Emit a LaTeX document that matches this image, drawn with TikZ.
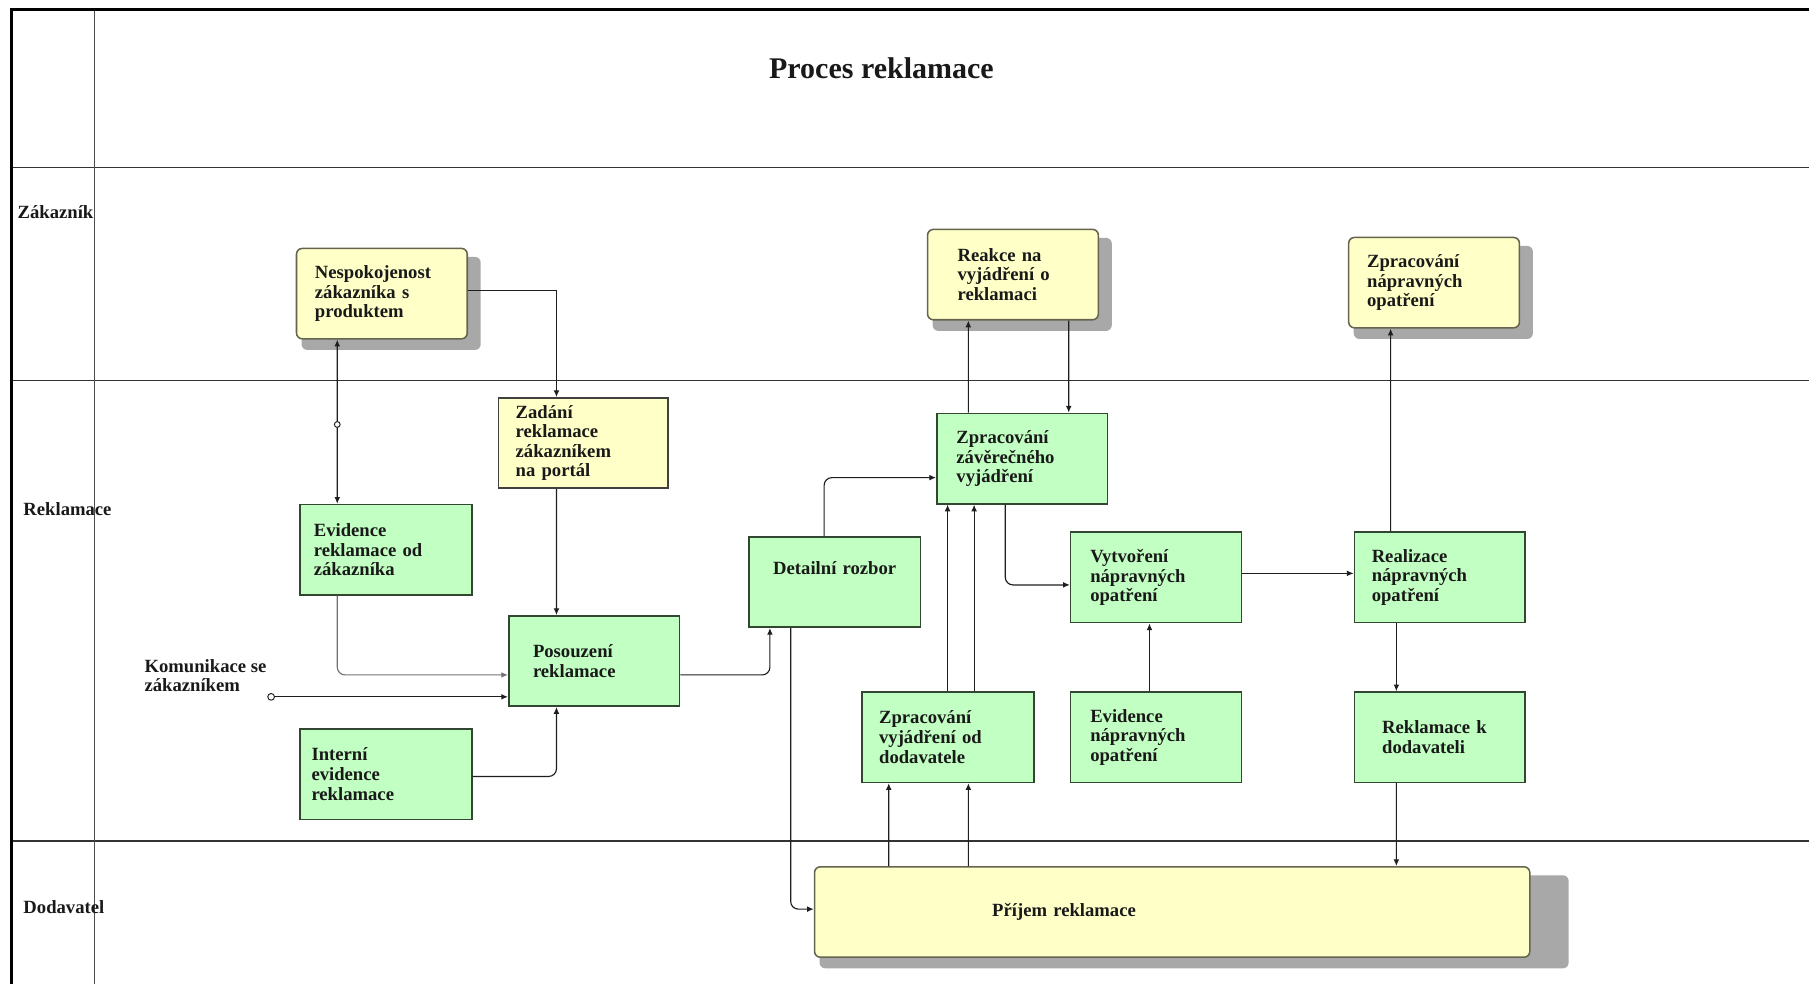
\documentclass[tikz,border=0pt]{standalone}
\usepackage{fontspec}
\setmainfont{Liberation Serif}
\usetikzlibrary{calc,arrows.meta,backgrounds}

\definecolor{boxgreen}{RGB}{194,255,194}
\definecolor{boxyellow}{RGB}{255,255,200}
\definecolor{greenedge}{RGB}{50,70,50}
\definecolor{yellowedge}{RGB}{100,100,80}
\definecolor{shadowgray}{RGB}{168,168,168}
\definecolor{wire}{RGB}{30,30,30}

\tikzset{
  >={Latex[length=3.5pt,width=3pt]},
  lbl/.style={font=\fontsize{9.7}{10.2}\selectfont\bfseries, text=black!90},
  procbox/.style={lbl, draw=greenedge, fill=boxgreen, line width=0.8pt, minimum height=47pt, align=left, inner ysep=0pt},
  userbox/.style={lbl, draw=yellowedge, fill=boxyellow, line width=0.8pt, minimum height=47pt, align=left, inner ysep=0pt, rounded corners=3pt},
  portalbox/.style={lbl, draw=black!75, fill=boxyellow, line width=0.8pt, minimum height=47pt, align=left, inner ysep=0pt},
  conn/.style={draw=wire, line width=0.6pt, ->},
  grayconn/.style={conn, draw=black!55},
  joint/.style={circle, draw=wire, fill=white, line width=0.5pt, inner sep=0pt, minimum size=3pt},
  lane/.style={line width=0.8pt, draw=black!80},
  outerframe/.style={line width=1.4pt, draw=black},
}

\begin{document}
\begin{tikzpicture}[x=0.6pt,y=-0.6pt]
\useasboundingbox (0,0) rectangle (1568,853);

% swimlane grid
\draw[lane] (10,145) -- (1568,145);
\draw[lane] (10,330) -- (1568,330);
\draw[lane] (10,729) -- (1568,729);
\draw[line width=0.6pt, draw=black!70] (82,8) -- (82,853);
\draw[outerframe] (1568,8) -- (10,8) -- (10,853);

% title and lane names
\node[lbl, font=\fontsize{15.6}{18}\selectfont\bfseries] (title) at (764,59) {Proces reklamace};
\node[lbl, anchor=west, inner sep=0pt] (laneA) at (15,184) {Zákazník};
\node[lbl, anchor=west, inner sep=0pt] (laneB) at (20,441) {Reklamace};
\node[lbl, anchor=west, inner sep=0pt] (laneC) at (20,786) {Dodavatel};

% process steps
\node[userbox, text width=69.6pt, inner xsep=9.6pt] (nesp) at (331,254.5) {Nespokojenost\\zákazníka s\\produktem};
\node[portalbox, text width=70.2pt, inner xsep=9pt] (zad) at (505.5,384) {Zadání\\reklamace\\zákazníkem\\na portál};
\node[procbox, text width=75pt, inner xsep=7.2pt] (evid) at (334.5,476.5) {Evidence\\reklamace od\\zákazníka};
\node[procbox, text width=63.6pt, inner xsep=12.6pt] (pos) at (515,573) {Posouzení\\reklamace};
\node[procbox, text width=77.4pt, inner xsep=6pt] (int) at (334.5,671) {Interní\\evidence\\reklamace};
\node[procbox, text width=70pt, inner xsep=9.7pt, align=center] (det) at (723.5,504.5) {Detailní rozbor\\[4.2pt]~};
\node[userbox, text width=57.6pt, inner xsep=15.6pt] (reak) at (878,238) {Reakce na\\vyjádření o\\reklamaci};
\node[procbox, text width=68.4pt, inner xsep=10.2pt] (zav) at (886,397.5) {Zpracování\\závěrečného\\vyjádření};
\node[procbox, text width=68.4pt, inner xsep=10.2pt] (vyt) at (1002,500.5) {Vytvoření\\nápravných\\opatření};
\node[userbox, text width=69.6pt, inner xsep=9.6pt] (zpn) at (1243,245) {Zpracování\\nápravných\\opatření};
\node[procbox, text width=70.8pt, inner xsep=9pt] (real) at (1248,500.5) {Realizace\\nápravných\\opatření};
\node[procbox, text width=71.4pt, inner xsep=9pt] (zvd) at (821.5,639) {Zpracování\\vyjádření od\\dodavatele};
\node[procbox, text width=68.4pt, inner xsep=10.2pt] (evn) at (1002,639) {Evidence\\nápravných\\opatření};
\node[procbox, text width=60pt, inner xsep=14.4pt] (rkd) at (1248,639) {Reklamace k\\dodavateli};
\node[userbox, text width=187.2pt, inner xsep=92.4pt] (prij) at (1016,790.5) {Příjem reklamace};

% drop shadows of the rounded boxes
\begin{scope}[on background layer]
  \foreach \b in {nesp,reak,zpn} {
    \fill[shadowgray, rounded corners=3pt] ($(\b.north west)+(5,8)$) rectangle ($(\b.south east)+(11,9)$);
  }
  \fill[shadowgray, rounded corners=3pt] ($(prij.north west)+(5,8)$) rectangle ($(prij.south east)+(33,9)$);
\end{scope}

% external input
\node[joint, minimum size=3.5pt] (kom) at (235,604) {};
\node[lbl, anchor=west, align=left, inner sep=0pt] (komtext) at (125,585.5) {Komunikace se\\zákazníkem};

% connectors
\draw[conn, <->] ($(nesp.south west)+(36,0)$) -- node[joint, pos=0.517] (j1) {} ($(evid.north west)+(33,0)$);
\draw[conn] ($(nesp.east)+(0,-2.5)$) -| ($(zad.north west)+(51,0)$);
\draw[conn] ($(zad.south west)+(51,0)$) -- ($(pos.north west)+(42,0)$);
\draw[grayconn, rounded corners=4pt] ($(evid.south west)+(33,0)$) |- ($(pos.west)+(0,12)$);
\draw[conn] (kom) -- ($(pos.west)+(0,31)$);
\draw[conn, rounded corners=4pt] ($(int.east)+(0,2)$) -| ($(pos.south west)+(42,0)$);
\draw[conn, rounded corners=4pt] ($(pos.east)+(0,12)$) -| ($(det.south west)+(19,0)$);
\draw[conn, rounded corners=4pt] ($(det.north west)+(66,0)$) |- ($(zav.west)+(0,16.5)$);
\draw[conn, rounded corners=4pt] ($(det.south west)+(37,0)$) |- ($(prij.west)+(0,-2.5)$);
\draw[conn] ($(zav.north west)+(28,0)$) -- ($(reak.south west)+(36,0)$);
\draw[conn] ($(reak.south west)+(123,0)$) -- ($(zav.north west)+(115,0)$);
\draw[conn, rounded corners=4pt] ($(zav.south west)+(60,0)$) |- ($(vyt.west)+(0,6.5)$);
\draw[conn] ($(zvd.north west)+(75,0)$) -- ($(zav.south west)+(10,0)$);
\draw[conn] ($(zvd.north west)+(98,0)$) -- ($(zav.south west)+(33,0)$);
\draw[conn] ($(prij.north west)+(65,0)$) -- ($(zvd.south west)+(24,0)$);
\draw[conn] ($(prij.north west)+(134,0)$) -- ($(zvd.south west)+(93,0)$);
\draw[conn] ($(evn.north west)+(69,0)$) -- ($(vyt.south west)+(69,0)$);
\draw[conn] ($(vyt.east)+(0,-3.5)$) -- ($(real.west)+(0,-3.5)$);
\draw[conn] ($(real.north west)+(32,0)$) -- ($(zpn.south west)+(37,0)$);
\draw[conn] ($(real.south west)+(37,0)$) -- ($(rkd.north west)+(37,0)$);
\draw[conn] ($(rkd.south west)+(37,0)$) -- ($(prij.north west)+(505,0)$);
\end{tikzpicture}
\end{document}
